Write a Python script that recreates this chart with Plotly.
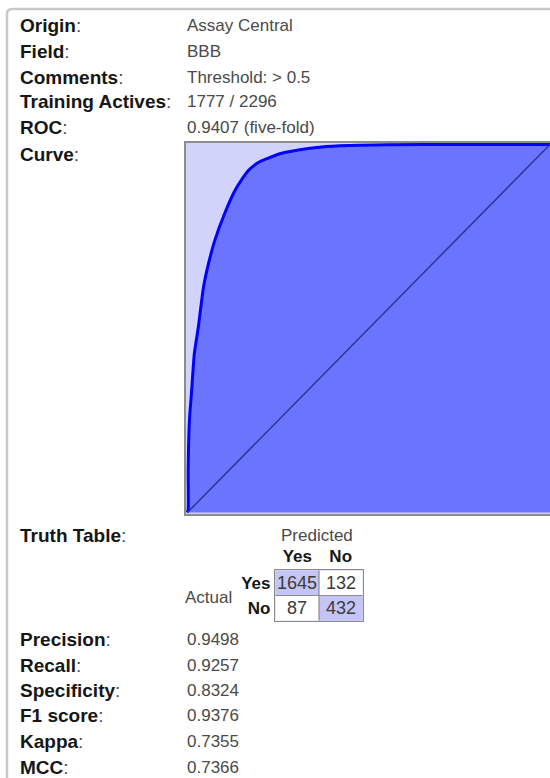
import plotly.graph_objects as go

# ---- model summary ----
field_labels = ["Origin", "Field", "Comments", "Training Actives", "ROC", "Curve"]
field_values = ["Assay Central", "BBB", "Threshold: > 0.5", "1777 / 2296", "0.9407 (five-fold)", ""]

metric_labels = ["Precision", "Recall", "Specificity", "F1 score", "Kappa", "MCC"]
metric_values = ["0.9498", "0.9257", "0.8324", "0.9376", "0.7355", "0.7366"]

# ---- ROC curve (false positive rate vs true positive rate) ----
fpr = [0.0, 0.002, 0.002, 0.0055, 0.011, 0.019, 0.030, 0.044, 0.058, 0.075, 0.102,
       0.130, 0.150, 0.168, 0.185, 0.203, 0.223, 0.260, 0.306, 0.370, 0.444, 0.55, 0.75, 1.0]
tpr = [0.0, 0.008, 0.116, 0.251, 0.324, 0.432, 0.504, 0.611, 0.676, 0.738, 0.811,
       0.873, 0.905, 0.929, 0.944, 0.955, 0.963, 0.976, 0.985, 0.993, 0.997, 0.999, 1.0, 1.0]

# ---- confusion matrix (rows: actual, cols: predicted) ----
classes = ["Yes", "No"]
confusion = [[1645, 132],
             [87, 432]]

W, H = 550, 778
FONT = "Liberation Sans, Arial, Helvetica, sans-serif"
LABEL_C = "#161616"
VALUE_C = "#4a4a4a"
LABEL_SIZE = 19
VALUE_SIZE = 17


def px(x):
    return x / W


def py(y):
    return 1 - y / H


fig = go.Figure()

# area under the ROC curve
fig.add_trace(go.Scatter(
    x=fpr, y=tpr, mode="lines", fill="tozeroy",
    fillcolor="#6b74fe", line=dict(color="#0000ff", width=3, shape="spline", smoothing=0.6),
    hoverinfo="skip", showlegend=False, xaxis="x", yaxis="y"))
# chance diagonal
fig.add_trace(go.Scatter(
    x=[0, 1], y=[0, 1], mode="lines", line=dict(color="#2a3890", width=1.5),
    hoverinfo="skip", showlegend=False, xaxis="x", yaxis="y"))

# truth table as a 2x2 heatmap, diagonal cells shaded
correct = [[1 if i == j else 0 for j in range(2)] for i in range(2)]
fig.add_trace(go.Heatmap(
    z=correct, x=classes, y=classes, text=confusion, texttemplate="%{text}",
    textfont=dict(size=18, color="#3a3a3a", family=FONT),
    colorscale=[[0, "#ffffff"], [1, "#c4c5f6"]], zmin=0, zmax=1,
    showscale=False, hoverinfo="skip", xaxis="x2", yaxis="y2"))

annotations = []


def label(text, y):
    annotations.append(dict(
        x=px(18), y=py(y), xref="paper", yref="paper", xanchor="left", yanchor="middle",
        text=f"<b>{text}</b><span style='color:{VALUE_C}'>:</span>", showarrow=False,
        font=dict(size=LABEL_SIZE, color=LABEL_C, family=FONT)))


def value(text, y):
    annotations.append(dict(
        x=px(185), y=py(y), xref="paper", yref="paper", xanchor="left", yanchor="middle",
        text=text, showarrow=False, font=dict(size=VALUE_SIZE, color=VALUE_C, family=FONT)))


row_y = [25, 51, 77, 102, 128, 154]
for lab, val, y in zip(field_labels, field_values, row_y):
    label(lab, y)
    if val:
        value(val, y)

label("Truth Table", 535)
annotations.append(dict(
    x=px(317), y=py(535), xref="paper", yref="paper", xanchor="center", yanchor="middle",
    text="Predicted", showarrow=False, font=dict(size=VALUE_SIZE, color=VALUE_C, family=FONT)))
annotations.append(dict(
    x=px(234), y=py(597), xref="paper", yref="paper", xanchor="right", yanchor="middle",
    text="Actual", showarrow=False, font=dict(size=VALUE_SIZE, color=VALUE_C, family=FONT)))

metric_y = [639, 665, 690, 715, 741, 767]
for lab, val, y in zip(metric_labels, metric_values, metric_y):
    label(lab, y)
    value(val, y)

shapes = [
    # outer panel frame with rounded corner
    dict(type="path", xref="paper", yref="paper",
         path=f"M {px(7)},{py(800)} L {px(7)},{py(14)} Q {px(7)},{py(9)} {px(12)},{py(9)} L {px(600)},{py(9)}",
         line=dict(color="#c9c9c9", width=2.5)),
    # truth table dividers
    dict(type="line", xref="x2", yref="y2", x0=0.5, x1=0.5, y0=-0.5, y1=1.5,
         line=dict(color="#8a8a8a", width=1.2), layer="above"),
    dict(type="line", xref="x2", yref="y2", x0=-0.5, x1=1.5, y0=0.5, y1=0.5,
         line=dict(color="#8a8a8a", width=1.2), layer="above"),
]

fig.update_layout(
    width=W, height=H, margin=dict(l=0, r=0, t=0, b=0),
    paper_bgcolor="#ffffff", plot_bgcolor="#d2d3fb",
    font=dict(family=FONT),
    xaxis=dict(domain=[px(186), 1.0], range=[-0.004, 1.0], showgrid=False, zeroline=False,
               showticklabels=False, ticks="", showline=True, linecolor="#8c8c8c",
               linewidth=1.5, mirror=True),
    yaxis=dict(domain=[py(514), py(143)], range=[-0.004, 1.004], showgrid=False, zeroline=False,
               showticklabels=False, ticks="", showline=True, linecolor="#8c8c8c",
               linewidth=1.5, mirror=False),
    xaxis2=dict(domain=[px(275), px(363)], anchor="y2", side="top", type="category",
                tickvals=classes, ticktext=[f"<b>{c}</b>" for c in classes],
                tickfont=dict(size=17, color=LABEL_C, family=FONT), ticks="",
                showgrid=False, zeroline=False, showline=True, linecolor="#8a8a8a",
                linewidth=1.2, mirror=True),
    yaxis2=dict(domain=[py(621), py(570)], anchor="x2", type="category",
                autorange="reversed",
                tickvals=classes, ticktext=[f"<b>{c}</b>" for c in classes],
                tickfont=dict(size=17, color=LABEL_C, family=FONT), ticks="",
                showgrid=False, zeroline=False, showline=True, linecolor="#8a8a8a",
                linewidth=1.2, mirror=True),
    annotations=annotations,
    shapes=shapes,
)

fig.write_html("out.html")
